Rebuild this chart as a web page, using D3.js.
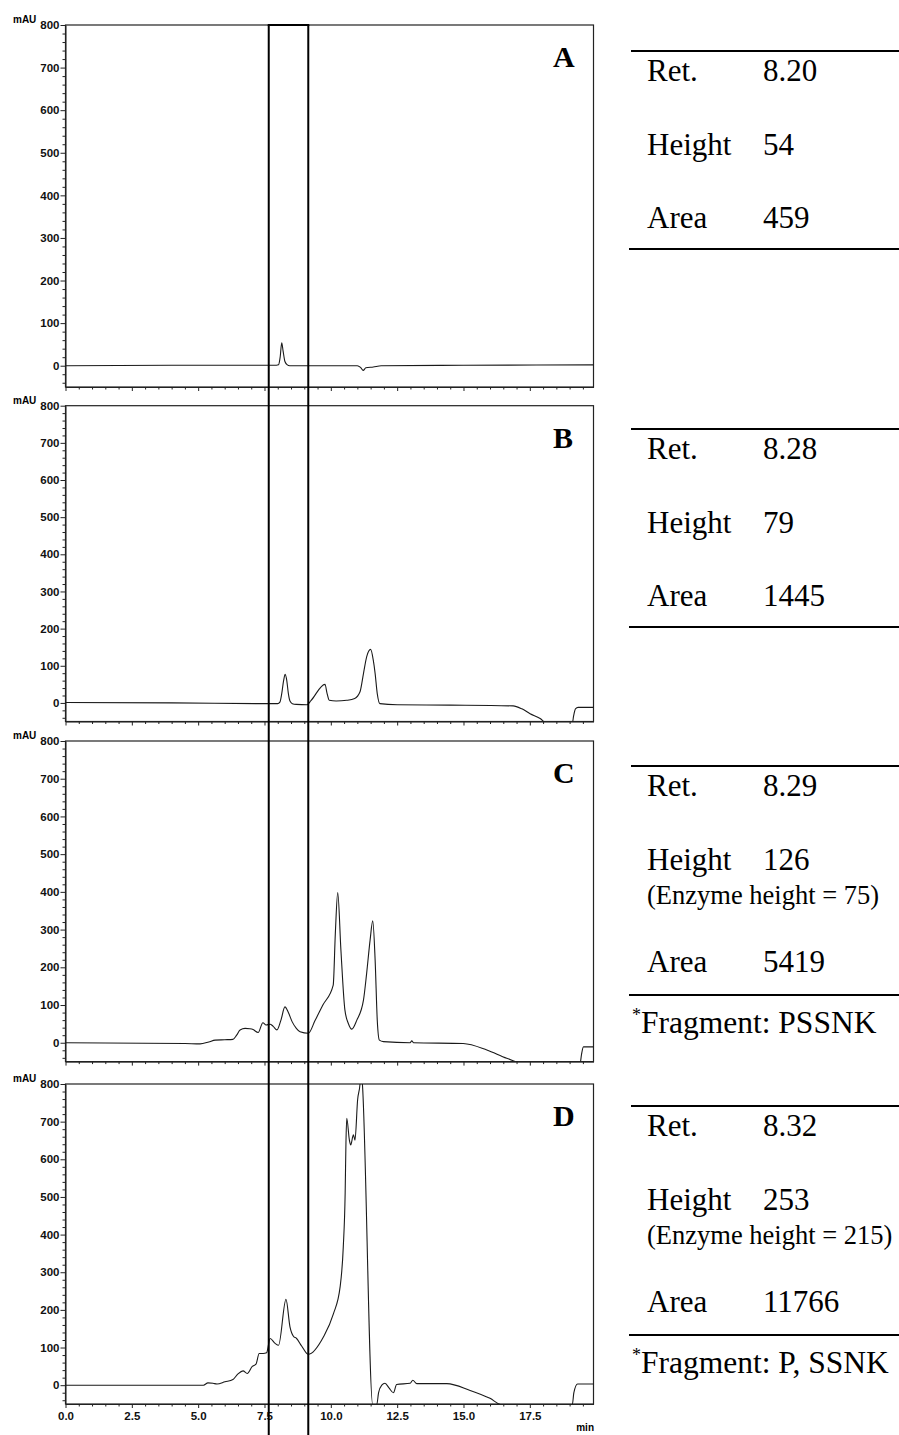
<!DOCTYPE html>
<html><head><meta charset="utf-8">
<script src="https://cdn.jsdelivr.net/npm/d3@7"></script>
<style>
body{margin:0;background:#fff}
svg{display:block}
.ax text{font-family:"Liberation Sans",Arial,sans-serif;font-weight:bold;font-size:11.5px;fill:#111}
.ax path,.ax line{stroke:#222;stroke-width:1}
.tbl{font-family:"Liberation Serif","Times New Roman",serif;fill:#000}
</style>
</head><body>
<svg id="c" width="899" height="1435"></svg>
<script>
// ---------- data ----------
const panelLabels = ["A", "B", "C", "D"];

const traceA = [[0,0],[4,1],[7.95,1],[8.03,2],[8.09,20],[8.15,54],[8.2,35],[8.27,10],[8.36,2],[8.45,0],
  [11.0,0],[11.12,-4],[11.22,-11],[11.32,-5],[11.6,-3],[11.9,0],[15,1],[19.9,2]];

const traceB = [[0,1],[4,0],[7.5,-2],[8.0,-2],[8.08,2],[8.15,25],[8.22,60],[8.28,77],[8.34,60],[8.4,25],
  [8.46,5],[8.55,-2],[8.7,-4],[9.1,-5],[9.25,6],[9.78,50],[9.86,25],[9.94,7],[10.2,5],[10.6,7],[10.9,12],
  [11.1,30],[11.23,79],[11.35,124],[11.5,144],[11.6,115],[11.67,79],[11.75,25],[11.85,-2],[12.5,-5],
  [14.5,-6],[16.87,-8],[17.2,-16],[17.51,-29],[17.89,-42],[18.14,-55],[19.1,-55],[19.15,-35],[19.22,-16],
  [19.32,-12],[19.9,-12]];

const traceC = [[0,0],[4.5,-2],[5.07,-3],[5.4,2],[5.64,7],[6.0,8],[6.31,9],[6.45,20],[6.58,34],[6.77,38],
  [6.95,37],[7.07,35],[7.26,27],[7.44,53],[7.56,47],[7.71,49],[7.82,44],[7.97,34],[8.12,60],[8.27,95],
  [8.4,80],[8.54,56],[8.7,38],[8.84,29],[9.15,25],[9.4,58],[9.7,100],[10.09,153],[10.17,290],[10.26,398],
  [10.38,246],[10.53,87],[10.66,51],[10.79,36],[10.98,60],[11.23,113],[11.35,184],[11.48,272],[11.58,323],
  [11.67,219],[11.75,60],[11.83,7],[11.98,3],[12.99,0],[13.05,5],[13.12,0],[14.99,-2],[15.88,-19],
  [16.63,-41],[17.38,-57],[19.39,-57],[19.45,-30],[19.52,-11],[19.9,-11]];

const traceD = [[0,0],[5.2,0],[5.37,6],[5.56,5],[5.71,3],[6.01,9],[6.31,15],[6.5,30],[6.69,38],[6.85,31],
  [7.04,50],[7.18,56],[7.3,84],[7.45,84],[7.58,86],[7.71,124],[7.9,111],[8.03,106],[8.31,228],[8.46,155],
  [8.59,130],[8.71,124],[8.9,104],[9.15,82],[9.72,128],[10.1,190],[10.35,261],[10.47,368],[10.54,510],
  [10.57,643],[10.6,709],[10.7,651],[10.75,638],[10.85,665],[10.91,651],[11.01,758],[11.1,800],
  [11.14,840],[11.19,800],[11.58,-52],[11.73,-52],[11.8,-20],[11.92,0],[12.04,5],[12.2,-8],[12.36,-20],
  [12.48,2],[12.99,5],[13.09,13],[13.24,4],[14.37,4],[15.25,-14],[16.0,-35],[16.44,-52],[19.1,-52],
  [19.16,-20],[19.3,3],[19.9,3]];

const traces = [traceA, traceB, traceC, traceD];

const yTickValues = [0, 100, 200, 300, 400, 500, 600, 700, 800];
const xTickValues = [0, 2.5, 5, 7.5, 10, 12.5, 15, 17.5];
const xTickLabels = ["0.0", "2.5", "5.0", "7.5", "10.0", "12.5", "15.0", "17.5"];
const windowRange = [7.66, 9.15];

const rowLabels = ["Ret.", "Height", "Area"];
const retValues = ["8.20", "8.28", "8.29", "8.32"];
const heightValues = ["54", "79", "126", "253"];
const areaValues = ["459", "1445", "5419", "11766"];
const enzymeNotes = [null, null, "(Enzyme height = 75)", "(Enzyme height = 215)"];
const fragmentNotes = [null, null, "Fragment: PSSNK", "Fragment: P, SSNK"];

// ---------- layout ----------
const layout = [
  {top: 25, bottom: 387, tableTop: 51},
  {top: 405.7, bottom: 721.5, tableTop: 429},
  {top: 741, bottom: 1061.6, tableTop: 766},
  {top: 1084, bottom: 1404, tableTop: 1106}
];
const svg = d3.select("#c");
const x = d3.scaleLinear().domain([0, 19.9]).range([65.5, 593.5]);
const minorY = d3.range(-40, 800, 20).filter(v => v % 100 !== 0);
const minorX = d3.range(0, 19.9, 0.5).filter(v => v % 2.5 !== 0);

layout.forEach((L, i) => {
  const y = d3.scaleLinear().domain([-50, 800]).range([L.bottom, L.top]);
  const g = svg.append("g");
  const cid = "clip" + i;
  svg.append("clipPath").attr("id", cid).append("rect")
    .attr("x", x.range()[0]).attr("y", L.top)
    .attr("width", x.range()[1] - x.range()[0]).attr("height", L.bottom - L.top);

  // frame
  g.append("rect").attr("x", x.range()[0]).attr("y", L.top)
    .attr("width", x.range()[1] - x.range()[0]).attr("height", L.bottom - L.top)
    .attr("fill", "none").attr("stroke", "#222").attr("stroke-width", 1.2);

  // y axis
  g.append("g").attr("class", "ax").attr("transform", `translate(${x.range()[0]},0)`)
    .call(d3.axisLeft(y).tickValues(yTickValues).tickSize(5).tickSizeOuter(0).tickPadding(1));
  g.append("g").attr("class", "ax").attr("transform", `translate(${x.range()[0]},0)`)
    .call(d3.axisLeft(y).tickValues(minorY).tickSize(3).tickSizeOuter(0).tickFormat(""))
    .select(".domain").remove();

  // x axis
  const xa = d3.axisBottom(x).tickValues(xTickValues).tickSize(4).tickSizeOuter(0).tickPadding(4)
    .tickFormat((d, k) => i === 3 ? xTickLabels[k] : "");
  g.append("g").attr("class", "ax").attr("transform", `translate(0,${L.bottom})`).call(xa);
  g.append("g").attr("class", "ax").attr("transform", `translate(0,${L.bottom})`)
    .call(d3.axisBottom(x).tickValues(minorX).tickSize(2.5).tickSizeOuter(0).tickFormat(""))
    .select(".domain").remove();

  // mAU
  g.append("text").attr("x", 13).attr("y", L.top - 2)
    .attr("font-family", "Liberation Sans, Arial, sans-serif").attr("font-weight", "bold")
    .attr("font-size", 10).text("mAU");

  // trace
  const line = d3.line().x(d => x(d[0])).y(d => y(d[1])).curve(d3.curveMonotoneX);
  g.append("path").datum(traces[i]).attr("d", line).attr("clip-path", `url(#${cid})`)
    .attr("fill", "none").attr("stroke", "#1a1a1a").attr("stroke-width", 1.1);

  // panel letter
  g.append("text").attr("x", 553).attr("y", L.top + 42)
    .attr("font-family", "Liberation Serif, Times New Roman, serif").attr("font-weight", "bold")
    .attr("font-size", 30).text(panelLabels[i]);

  // table
  const T = L.tableTop;
  const hasNote = enzymeNotes[i] !== null;
  const tg = svg.append("g").attr("class", "tbl");
  const bottomLine = T + (hasNote ? 229 : 198);
  tg.append("line").attr("x1", 631).attr("x2", 899).attr("y1", T).attr("y2", T)
    .attr("stroke", "#000").attr("stroke-width", 2);
  tg.append("line").attr("x1", 629).attr("x2", 899).attr("y1", bottomLine).attr("y2", bottomLine)
    .attr("stroke", "#000").attr("stroke-width", 2);
  const rows = [
    {lab: rowLabels[0], val: retValues[i], yy: T + 29.5},
    {lab: rowLabels[1], val: heightValues[i], yy: T + 103.5},
    {lab: rowLabels[2], val: areaValues[i], yy: T + (hasNote ? 206 : 177)}
  ];
  rows.forEach(r => {
    tg.append("text").attr("x", 647).attr("y", r.yy).attr("font-size", 31).text(r.lab);
    tg.append("text").attr("x", 763).attr("y", r.yy).attr("font-size", 31).text(r.val);
  });
  if (hasNote) {
    tg.append("text").attr("x", 647).attr("y", T + 137.5).attr("font-size", 26.5).text(enzymeNotes[i]);
    const ft = tg.append("text").attr("x", 632).attr("y", bottomLine + 38).attr("font-size", 31.5);
    ft.append("tspan").attr("font-size", 18).attr("dy", -12).text("*");
    ft.append("tspan").attr("dy", 12).text(fragmentNotes[i]);
  }
});

// x-axis unit
svg.append("text").attr("x", 594).attr("y", 1431).attr("text-anchor", "end")
  .attr("font-family", "Liberation Sans, Arial, sans-serif").attr("font-weight", "bold")
  .attr("font-size", 10).text("min");

// highlighted retention window
const wx0 = x(windowRange[0]), wx1 = x(windowRange[1]);
const wg = svg.append("g").attr("stroke", "#000").attr("stroke-width", 2);
wg.append("line").attr("x1", wx0).attr("x2", wx0).attr("y1", 25).attr("y2", 1435);
wg.append("line").attr("x1", wx1).attr("x2", wx1).attr("y1", 25).attr("y2", 1435);
wg.append("line").attr("x1", wx0 - 1).attr("x2", wx1 + 1).attr("y1", 25).attr("y2", 25);
</script>
</body></html>
